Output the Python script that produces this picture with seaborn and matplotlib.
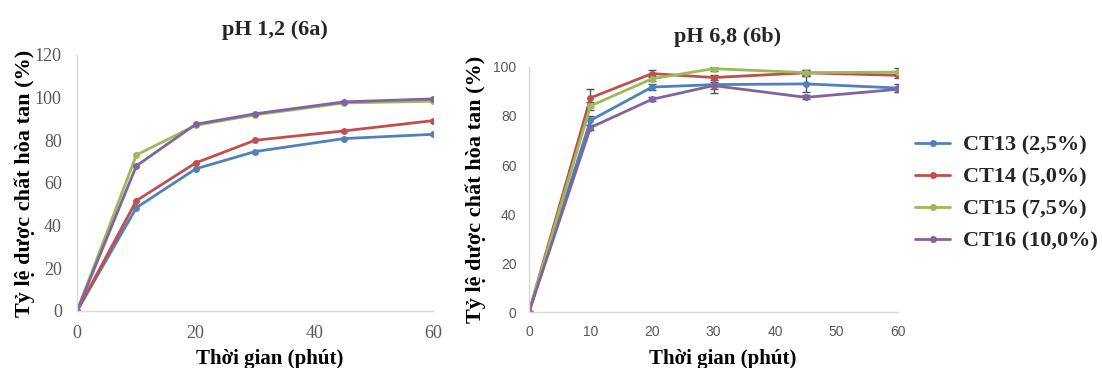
import matplotlib
matplotlib.use("Agg")
import matplotlib.pyplot as plt
import seaborn as sns
import pandas as pd
from matplotlib.lines import Line2D

sns.set_theme(style="white")
plt.rcParams['font.family'] = ['Liberation Serif', 'DejaVu Serif']

time_min = [0, 10, 20, 30, 45, 60]
series_names = ["CT13 (2,5%)", "CT14 (5,0%)", "CT15 (7,5%)", "CT16 (10,0%)"]
colors = ["#4F81BD", "#C0504D", "#9BBB59", "#8064A2"]

# pH 1.2 (6a)
ph12_ct13 = [0, 48.4, 66.6, 74.7, 80.8, 82.8]
ph12_ct14 = [0, 51.7, 69.4, 80.0, 84.4, 89.2]
ph12_ct15 = [0, 73.1, 87.0, 91.9, 97.5, 98.3]
ph12_ct16 = [0, 68.0, 87.5, 92.4, 98.0, 99.4]

# pH 6.8 (6b)
ph68_ct13 = [0, 78.2, 91.8, 92.8, 93.1, 91.4]
ph68_ct14 = [0, 87.4, 97.3, 95.7, 97.6, 96.6]
ph68_ct15 = [0, 84.1, 95.2, 99.3, 97.7, 97.9]
ph68_ct16 = [0, 75.3, 86.8, 92.4, 87.6, 90.9]

ph68_sd13 = [0, 2.0, 1.2, 3.5, 3.2, 1.5]
ph68_sd14 = [0, 3.6, 1.5, 1.0, 1.0, 1.2]
ph68_sd15 = [0, 1.5, 1.0, 0.8, 1.2, 1.5]
ph68_sd16 = [0, 1.0, 0.8, 1.5, 0.8, 1.0]

def long_df(vals):
    rows = []
    for name, v in zip(series_names, vals):
        for t, y in zip(time_min, v):
            rows.append({"t": t, "y": y, "s": name})
    return pd.DataFrame(rows)

df_a = long_df([ph12_ct13, ph12_ct14, ph12_ct15, ph12_ct16])
df_b = long_df([ph68_ct13, ph68_ct14, ph68_ct15, ph68_ct16])

fig = plt.figure(figsize=(11.02, 3.68), dpi=100)
ax1 = fig.add_axes([0.0699, 0.155, 0.323, 0.6957])
ax2 = fig.add_axes([0.480, 0.152, 0.335, 0.666])

palette = dict(zip(series_names, colors))

sns.lineplot(data=df_a, x="t", y="y", hue="s", palette=palette, marker="o",
             markersize=5, markeredgewidth=0, linewidth=2, ax=ax1, legend=False)

for name, v, sd in zip(series_names, [ph68_ct13, ph68_ct14, ph68_ct15, ph68_ct16],
                       [ph68_sd13, ph68_sd14, ph68_sd15, ph68_sd16]):
    ax2.errorbar(time_min, v, yerr=sd, fmt="none", ecolor="#555555",
                 elinewidth=1, capsize=3, zorder=1)
sns.lineplot(data=df_b, x="t", y="y", hue="s", palette=palette, marker="o",
             markersize=5, markeredgewidth=0, linewidth=2, ax=ax2, legend=False)

tick_color = "#595959"
for ax, ylim, yt, xt, tfam, tsize, ypad, xpad in [
        (ax1, (0, 120), range(0, 121, 20), range(0, 61, 20), "Liberation Serif", 13, 11, 10),
        (ax2, (0, 100), range(0, 101, 20), range(0, 61, 10), "Liberation Sans", 10, 9, 9)]:
    ax.set_xlim(0, 60)
    ax.set_ylim(*ylim)
    ax.set_xticks(list(xt))
    ax.set_yticks(list(yt))
    ax.tick_params(axis="both", labelsize=tsize, colors=tick_color, length=0)
    ax.tick_params(axis="y", pad=ypad)
    ax.tick_params(axis="x", pad=xpad)
    for lab in ax.get_xticklabels() + ax.get_yticklabels():
        lab.set_family(tfam)
    for sp in ["top", "right"]:
        ax.spines[sp].set_visible(False)
    for sp in ["left", "bottom"]:
        ax.spines[sp].set_color("#D9D9D9")
        ax.spines[sp].set_linewidth(1)
    ax.grid(False)
    ax.set_facecolor("white")

ax1.set_xlabel("Thời gian (phút)", fontsize=15, fontweight="bold", color="black")
ax2.set_xlabel("Thời gian (phút)", fontsize=15, fontweight="bold", color="black")
ax1.xaxis.set_label_coords(0.54, -0.148)
ax2.xaxis.set_label_coords(0.524, -0.151)
ax1.set_ylabel("Tỷ lệ dược chất hòa tan (%)", fontsize=16, fontweight="bold", color="black", labelpad=0)
ax2.set_ylabel("Tỷ lệ dược chất hòa tan (%)", fontsize=16, fontweight="bold", color="black", labelpad=5)

ax1.set_title("pH 1,2 (6a)", fontsize=16, fontweight="bold", pad=14, x=0.557)
ax2.set_title("pH 6,8 (6b)", fontsize=16, fontweight="bold", pad=18, x=0.539)

handles = [Line2D([0], [0], color=c, lw=2, marker="o", markersize=4) for c in colors]
fig.legend(handles, series_names, loc="center left", bbox_to_anchor=(0.8303, 0.4747),
           frameon=False, prop={"family": "Liberation Serif", "weight": "bold", "size": 16},
           handlelength=1.58, labelspacing=0.52, handletextpad=0.58,
           borderpad=0, borderaxespad=0)

fig.savefig("out.png", dpi=100)
